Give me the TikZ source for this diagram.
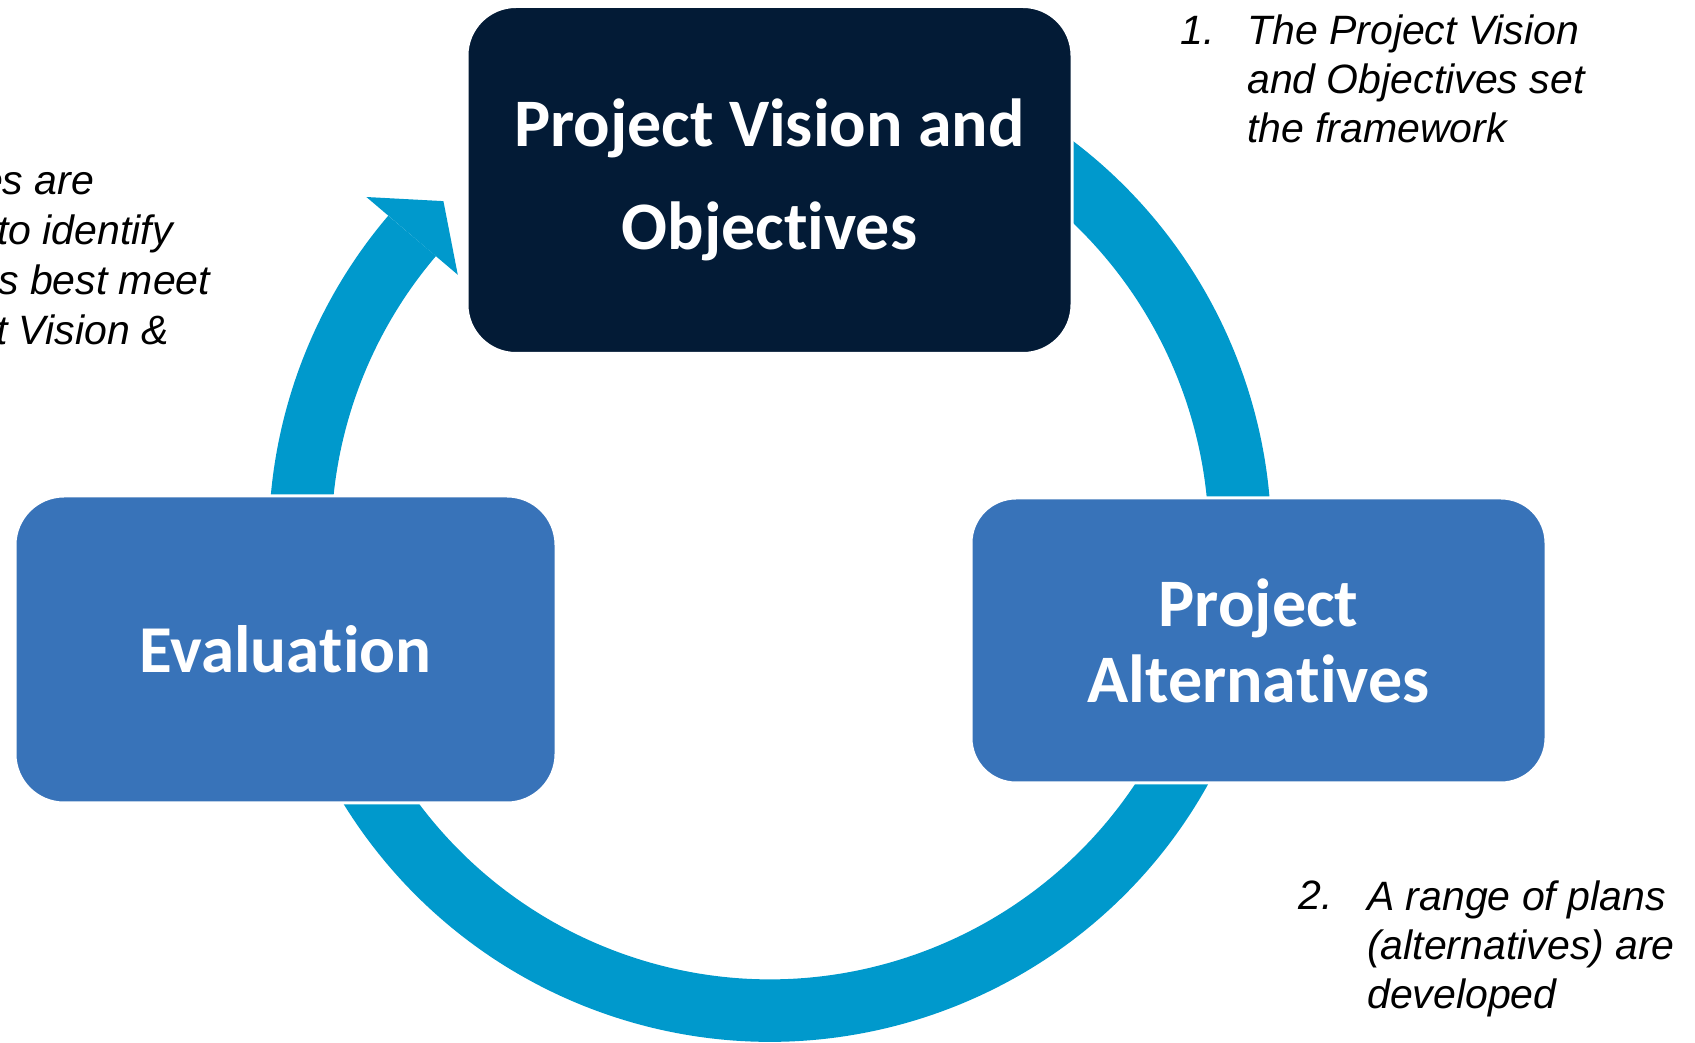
\documentclass[tikz,border=0pt]{standalone}
\usepackage{fontspec}
\setmainfont{Liberation Sans}
\newfontfamily\boxfont[Ligatures=NoCommon,RawFeature={-liga;-clig;-calt;-dlig}]{Carlito}
\usetikzlibrary{calc}
\definecolor{navy}{HTML}{031B36}
\definecolor{boxblue}{HTML}{3873B9}
\definecolor{ringblue}{HTML}{0099CC}
\newcommand{\nolig}{\kern0pt}
\begin{document}
\begin{tikzpicture}[x=1pt,y=1pt,
  stage/.style={rounded corners=49pt, fill=boxblue, draw=white, line width=3pt,
    text=white, align=center, inner sep=0pt},
  note/.style={font=\itshape\fontsize{41}{49}\selectfont, anchor=base west,
    align=left, inner sep=0pt, text=black}]
\useasboundingbox (0,0) rectangle (1695,1042);
\coordinate (c) at (770,501.5);
% cycle ring
\draw[ringblue, line width=62.5pt] ($(c)+(70:470)$) arc[start angle=70, end angle=-220.4, radius=470];
\coordinate (tip) at ($(c)+(133.9:471)$);
\fill[ringblue] ($(c)+(139.6:530)$) -- (tip) -- ($(c)+(139.6:410)$) -- cycle;
% boxes
\node[stage, fill=navy, minimum width=605pt, minimum height=347pt,
  font=\boxfont\bfseries\fontsize{68}{103}\selectfont] (vision) at (769.5,862) {Project Vision and\\Objec\nolig t\nolig ives};
\node[stage, minimum width=541pt, minimum height=307pt,
  font=\boxfont\bfseries\fontsize{67}{80}\selectfont] (eval) at (285.5,392.5) {Evalua\nolig t\nolig ion};
\node[stage, rounded corners=45pt, minimum width=575pt, minimum height=285pt,
  font=\boxfont\bfseries\fontsize{68}{76}\selectfont] (alt) at (1258.5,401.5) {Project\\Alterna\nolig t\nolig ives};
% notes (base anchor = last line)
\node[note] (n1num) at (1180,997) {1.};
\node[note] (n1) at (1247,899) {The Project Vision\\and Objectives set\\the framework};
\node[note] (n2num) at (1298,132) {2.};
\node[note] (n2) at (1367,34) {A range of plans\\(alternatives) are\\developed};
\node[note] (l1) at (-20,847) {es are};
\node[note] (l2) at (-3,797) {to identify};
\node[note] (l3) at (-2,747) {s best meet};
\node[note] (l4) at (-4,697) {t Vision \&};
\end{tikzpicture}
\end{document}
